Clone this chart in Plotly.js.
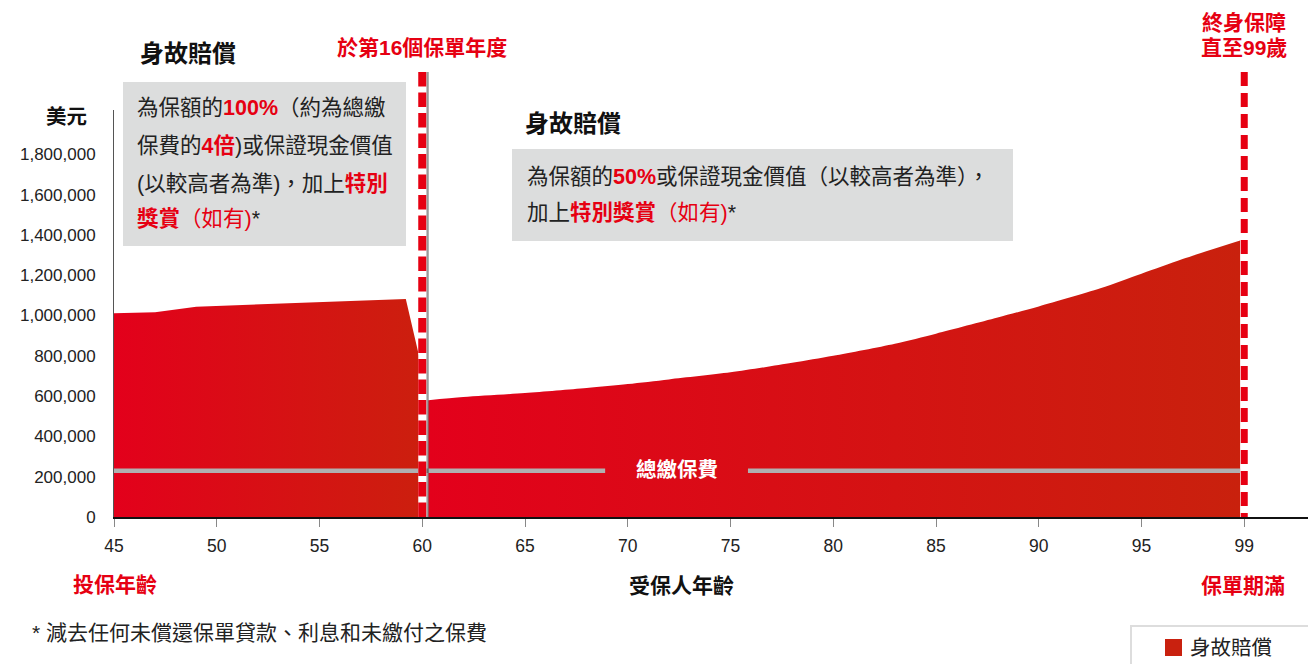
<!DOCTYPE html>
<html>
<head>
<meta charset="utf-8">
<script src="https://cdn.plot.ly/plotly-3.0.1.min.js"></script>
<style>
  html, body { margin: 0; padding: 0; background: #fff; }
  #chart { width: 1308px; height: 664px; }
</style>
</head>
<body>
<div id="chart"></div>
<script>
// ---------- data ----------
const leftAges   = [45, 47, 49, 51, 53, 55, 57, 59.2, 59.85];
const leftValues = [1011000, 1016000, 1044000, 1052000, 1059000, 1066000, 1073000, 1082000, 796000];

const rightAges   = [60.3, 62, 65, 68, 70, 72, 75, 78, 80, 83, 85, 88, 90, 93, 95, 97, 99.8];
const rightValues = [580000, 595000, 615000, 640000, 660000, 683000, 718000, 765000, 800000, 860000, 910000, 990000, 1045000, 1135000, 1207000, 1280000, 1372000];

const premiumValue = 230000;
const premiumAges  = [45, 68.9, null, 75.85, 99.8];

const xTickVals = [45, 50, 55, 60, 65, 70, 75, 80, 85, 90, 95, 100];
const xTickText = ['45', '50', '55', '60', '65', '70', '75', '80', '85', '90', '95', '99'];
const yTickVals = [0, 200000, 400000, 600000, 800000, 1000000, 1200000, 1400000, 1600000, 1800000];

const switchAge = 60;   // 第16個保單年度
const endAge = 100;     // position of the "99" tick

// ---------- styling ----------
const FONT = 'Liberation Sans, Arial, Noto Sans CJK TC, sans-serif';
const RED = '#e60012';
const DARK = '#222222';

// plot area in pixels
const L = 114, T = 110, W = 1194, H = 407;
const px = x => (x - L) / W;
const py = y => (T + H - y) / H;

const premiumLine = premiumAges.map(a => a === null ? null : premiumValue);

const traces = [
  {
    x: leftAges, y: leftValues, type: 'scatter', mode: 'lines', fill: 'tozeroy',
    line: { width: 0, color: 'rgba(0,0,0,0)' },
    fillgradient: { type: 'horizontal', colorscale: [[0, '#e3001b'], [1, '#cc1f0e']] },
    hoverinfo: 'skip', showlegend: false
  },
  {
    x: rightAges, y: rightValues, type: 'scatter', mode: 'lines', fill: 'tozeroy',
    line: { width: 0, color: 'rgba(0,0,0,0)', shape: 'spline', smoothing: 0.8 },
    fillgradient: { type: 'horizontal', colorscale: [[0, '#e3001b'], [1, '#c9210d']] },
    hoverinfo: 'skip', showlegend: false
  },
  {
    x: premiumAges, y: premiumLine, type: 'scatter', mode: 'lines',
    line: { width: 4.5, color: '#b0b0b0' }, connectgaps: false,
    hoverinfo: 'skip', showlegend: false
  }
];

function vline(x, w, color, dash) {
  return { type: 'line', xref: 'x', yref: 'paper', x0: x, x1: x, y0: py(72), y1: 0,
           line: { width: w, color: color, dash: dash || 'solid' }, layer: 'above' };
}

const shapes = [
  // grey boxes
  { type: 'rect', xref: 'paper', yref: 'paper', x0: px(123), x1: px(406), y0: py(246), y1: py(82),
    fillcolor: '#dcdddd', line: { width: 0 }, layer: 'below' },
  { type: 'rect', xref: 'paper', yref: 'paper', x0: px(512), x1: px(1013), y0: py(241), y1: py(149),
    fillcolor: '#dcdddd', line: { width: 0 }, layer: 'below' },
  // shadow of the 16th-year line
  { type: 'rect', xref: 'x', xsizemode: 'pixel', xanchor: switchAge, x0: 4, x1: 6.5,
    yref: 'paper', y0: 0, y1: py(72), fillcolor: 'rgba(0,0,0,0.4)', line: { width: 0 }, layer: 'above' },
  vline(switchAge, 8, '#ffffff'),
  vline(switchAge, 8, '#e60012', '14.5px,6px'),
  vline(endAge, 7, '#ffffff'),
  vline(endAge, 7, '#e60012', '14px,7px'),
  // legend box
  { type: 'rect', xref: 'paper', yref: 'paper', x0: px(1131), x1: px(1320), y0: py(680), y1: py(626),
    fillcolor: '#ffffff', line: { width: 2, color: '#dddddd' }, layer: 'above' },
  { type: 'rect', xref: 'paper', yref: 'paper', x0: px(1165), x1: px(1182), y0: py(656), y1: py(639),
    fillcolor: '#c9210f', line: { width: 0 }, layer: 'above' }
];

function ann(text, x, y, size, color, xanchor) {
  return { text: text, xref: 'paper', yref: 'paper', x: px(x), y: py(y),
           xanchor: xanchor || 'left', yanchor: 'middle', showarrow: false,
           font: { family: FONT, size: size, color: color || DARK }, borderpad: 0 };
}
const r = t => '<span style="color:' + RED + '">' + t + '</span>';
const rb = t => '<span style="color:' + RED + '"><b>' + t + '</b></span>';

const BOX = 21.5;
const annotations = [
  ann('<b>身故賠償</b>', 139, 54, 24, '#111'),
  ann('為保額的' + rb('100%') + '（約為總繳', 136, 108, BOX),
  ann('保費的' + rb('4倍') + ')或保證現金價值', 136, 145, BOX),
  ann('(以較高者為準)，加上' + rb('特別'), 136, 184, BOX),
  ann(rb('獎賞') + r('（如有)') + '*', 136, 219, BOX),

  ann('<b>於第16個保單年度</b>', 422, 48, 21, RED, 'center'),

  ann('<b>身故賠償</b>', 524, 123, 24, '#111'),
  ann('為保額的' + rb('50%') + '或保證現金價值（以較高者為準），', 526, 177, BOX),
  ann('加上' + rb('特別獎賞') + r('（如有)') + '*', 526, 213, BOX),

  ann('<b>終身保障</b>', 1244, 22, 21, RED, 'center'),
  ann('<b>直至99歲</b>', 1244, 48, 21, RED, 'center'),

  ann('<b>美元</b>', 66, 117, 20.5, '#111', 'center'),

  ann('<b>總繳保費</b>', 677, 469, 20.5, '#ffffff', 'center'),

  ann('<b>投保年齡</b>', 115, 584, 21, RED, 'center'),
  ann('<b>受保人年齡</b>', 681, 585, 21, '#111', 'center'),
  ann('<b>保單期滿</b>', 1243, 585, 21, RED, 'center'),

  ann('*&nbsp;減去任何未償還保單貸款、利息和未繳付之保費', 31, 632, 21, DARK),

  ann('身故賠償', 1189, 647, 20.5, DARK)
];

const layout = {
  width: 1308, height: 664,
  margin: { l: L, r: 1308 - L - W, t: T, b: 664 - T - H, pad: 0 },
  paper_bgcolor: '#ffffff', plot_bgcolor: '#ffffff',
  showlegend: false,
  font: { family: FONT, color: DARK },
  xaxis: {
    range: [45, 45 + W / 20.55],
    tickvals: xTickVals, ticktext: xTickText,
    showgrid: false, zeroline: false,
    showline: true, linecolor: '#111', linewidth: 1.5,
    ticks: 'outside', ticklen: 8, tickcolor: '#888', tickwidth: 1,
    tickfont: { family: FONT, size: 17.5, color: DARK },
    ticklabelstandoff: 4,
    fixedrange: true
  },
  yaxis: {
    range: [0, 2020000],
    tickvals: yTickVals, tickformat: ',d',
    showgrid: false, zeroline: false,
    showline: true, linecolor: '#555', linewidth: 1,
    ticks: '', tickfont: { family: FONT, size: 17, color: DARK },
    ticklabelstandoff: 14,
    fixedrange: true
  },
  shapes: shapes,
  annotations: annotations
};

Plotly.newPlot('chart', traces, layout, { staticPlot: true, displayModeBar: false });
</script>
</body>
</html>
